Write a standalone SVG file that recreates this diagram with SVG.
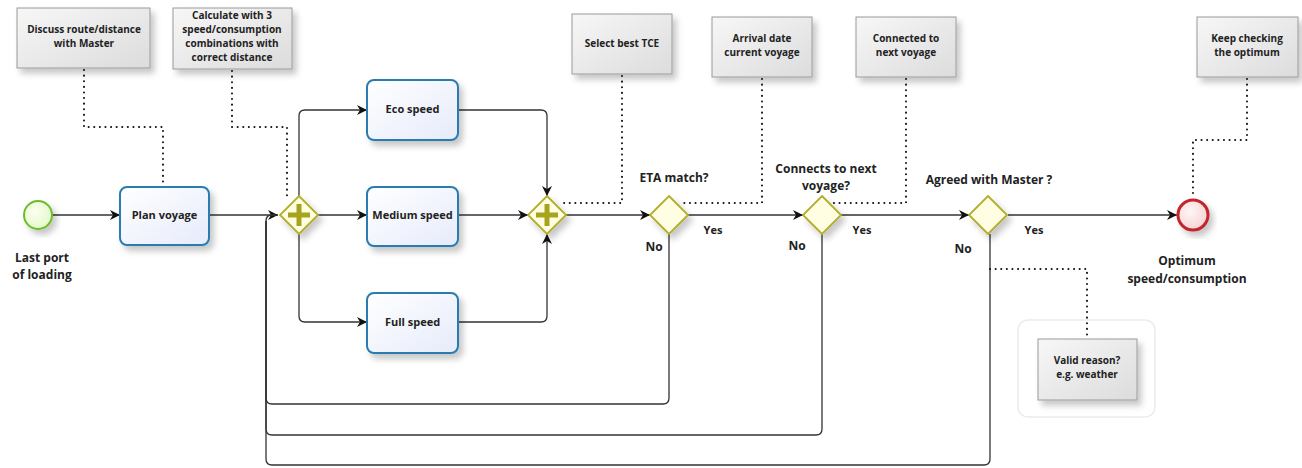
<svg xmlns="http://www.w3.org/2000/svg" width="1302" height="468" viewBox="0 0 1302 468">
<defs>
<linearGradient id="taskG" x1="0" y1="0" x2="1" y2="1"><stop offset="0" stop-color="#ffffff"/><stop offset="1" stop-color="#e6ebfb"/></linearGradient>
<linearGradient id="annG" x1="0" y1="0" x2="1" y2="1"><stop offset="0" stop-color="#f7f7f7"/><stop offset="1" stop-color="#dcdcdc"/></linearGradient>
<radialGradient id="startG" cx="0.4" cy="0.4" r="0.7"><stop offset="0" stop-color="#fbfff0"/><stop offset="1" stop-color="#e3f7c4"/></radialGradient>
<radialGradient id="endG" cx="0.4" cy="0.4" r="0.7"><stop offset="0" stop-color="#fff6f6"/><stop offset="1" stop-color="#f3cfd0"/></radialGradient>
<filter id="sh" x="-20%" y="-20%" width="150%" height="150%"><feDropShadow dx="4" dy="5" stdDeviation="3" flood-color="#000" flood-opacity="0.22"/></filter>
<marker id="arr" viewBox="0 0 10 10" refX="10" refY="5" markerWidth="10" markerHeight="10" markerUnits="userSpaceOnUse" orient="auto"><path d="M0,0 L10,5 L0,10 L3,5 Z" fill="#111"/></marker>
</defs>
<style>
.t{font-family:"Open Sans","Liberation Sans",sans-serif;font-weight:bold;fill:#222;text-anchor:middle}
.task{fill:url(#taskG);stroke:#2b7bb0;stroke-width:2;filter:url(#sh)}
.ann{fill:url(#annG);stroke:#9a9a9a;stroke-width:1;filter:url(#sh)}
.gw{fill:#fffde2;stroke:#b2ad2c;stroke-width:1.8;filter:url(#sh)}
.plus{fill:#a8a31c}
.flow{fill:none;stroke:#333;stroke-width:1.3}
.assoc{fill:none;stroke:#111;stroke-width:2;stroke-dasharray:0.1 5.5;stroke-linecap:round}
.ta{font-size:11px}
.tn{font-size:10px}
.tl{font-size:12px}
</style>
<rect width="1302" height="468" fill="#fff"/>

<g id="connectors">
<path class="flow" d="M52,215 H120" marker-end="url(#arr)"/>
<path class="flow" d="M209,215 H278" marker-end="url(#arr)"/>
<path class="flow" d="M318,215 H367" marker-end="url(#arr)"/>
<path class="flow" d="M299,196 V116 Q299,110 305,110 H367" marker-end="url(#arr)"/>
<path class="flow" d="M299,234 V316 Q299,322 305,322 H367" marker-end="url(#arr)"/>
<path class="flow" d="M458,110 H541 Q547,110 547,116 V196" marker-end="url(#arr)"/>
<path class="flow" d="M458,215 H528" marker-end="url(#arr)"/>
<path class="flow" d="M458,322 H541 Q547,322 547,316 V234" marker-end="url(#arr)"/>
<path class="flow" d="M566,215 H650" marker-end="url(#arr)"/>
<path class="flow" d="M688,215 H803" marker-end="url(#arr)"/>
<path class="flow" d="M841,215 H969" marker-end="url(#arr)"/>
<path class="flow" d="M1008,215 H1177" marker-end="url(#arr)"/>
<path class="flow" d="M669,234 V398 Q669,404 663,404 H272 Q266,404 266,398 V221 Q266,215 272,215 H276"/>
<path class="flow" d="M822,234 V429 Q822,435 816,435 H272 Q266,435 266,429 V221"/>
<path class="flow" d="M990,234 V459 Q990,465 984,465 H272 Q266,465 266,459 V221"/>
<path class="assoc" d="M84,70 V127 H163 V186"/>
<path class="assoc" d="M232,71 V127 H287 V198"/>
<path class="assoc" d="M622,76 V203 H560"/>
<path class="assoc" d="M762,79 V203 H680"/>
<path class="assoc" d="M906,79 V203 H832"/>
<path class="assoc" d="M1247,79 V140 H1193 V198"/>
<path class="assoc" d="M990,269 H1087 V337"/>
</g>

<g id="start">
<circle cx="38" cy="215" r="14" fill="url(#startG)" stroke="#6bbd2c" stroke-width="2" filter="url(#sh)"/>
<text class="t tl" x="42" y="262">Last port</text>
<text class="t tl" x="42" y="279">of loading</text>
</g>

<g id="plan"><rect class="task" x="120" y="187" width="89" height="58" rx="7"/><text class="t ta" x="164.5" y="219">Plan voyage</text></g>

<g id="split"><path class="gw" d="M299,196 L318,215 L299,234 L280,215 Z"/><path class="plus" d="M296.5,204 h5 v8.5 h8.5 v5 h-8.5 v8.5 h-5 v-8.5 h-8.5 v-5 h8.5 Z"/></g>

<g id="eco"><rect class="task" x="367" y="80" width="91" height="60" rx="7"/><text class="t ta" x="412.5" y="113">Eco speed</text></g>
<g id="medium"><rect class="task" x="367" y="187" width="91" height="59" rx="7"/><text class="t ta" x="412.5" y="219">Medium speed</text></g>
<g id="full"><rect class="task" x="367" y="293" width="91" height="60" rx="7"/><text class="t ta" x="412.5" y="326">Full speed</text></g>

<g id="join"><path class="gw" d="M547,196 L566,215 L547,234 L528,215 Z"/><path class="plus" d="M544.5,204 h5 v8.5 h8.5 v5 h-8.5 v8.5 h-5 v-8.5 h-8.5 v-5 h8.5 Z"/></g>

<g id="eta"><path class="gw" d="M669,196 L688,215 L669,234 L650,215 Z"/>
<text class="t tl" x="674" y="182">ETA match?</text>
<text class="t ta" x="713" y="234">Yes</text>
<text class="t tl" x="654" y="251">No</text></g>

<g id="connects"><path class="gw" d="M822,196 L841,215 L822,234 L803,215 Z"/>
<text class="t tl" x="826" y="173">Connects to next</text>
<text class="t tl" x="826" y="190">voyage?</text>
<text class="t ta" x="862" y="234">Yes</text>
<text class="t tl" x="797" y="250">No</text></g>

<g id="agreed"><path class="gw" d="M988,196 L1007,215 L988,234 L969,215 Z"/>
<text class="t tl" x="989" y="184">Agreed with Master ?</text>
<text class="t ta" x="1034" y="234">Yes</text>
<text class="t tl" x="963" y="253">No</text></g>

<g id="end">
<circle cx="1193" cy="215" r="15" fill="url(#endG)" stroke="#c1272d" stroke-width="3" filter="url(#sh)"/>
<text class="t tl" x="1187" y="265">Optimum</text>
<text class="t tl" x="1187" y="283">speed/consumption</text>
</g>

<g id="ann1"><rect class="ann" x="17" y="8" width="133" height="60"/><text class="t tn" x="84" y="33">Discuss route/distance</text><text class="t tn" x="84" y="47">with Master</text></g>
<g id="ann2"><rect class="ann" x="173" y="8" width="119" height="61"/><text class="t tn" x="232" y="19">Calculate with 3</text><text class="t tn" x="232" y="33">speed/consumption</text><text class="t tn" x="232" y="47">combinations with</text><text class="t tn" x="232" y="61">correct distance</text></g>
<g id="ann3"><rect class="ann" x="572" y="14" width="100" height="60"/><text class="t tn" x="622" y="47">Select best TCE</text></g>
<g id="ann4"><rect class="ann" x="712" y="17" width="100" height="60"/><text class="t tn" x="762" y="42">Arrival date</text><text class="t tn" x="762" y="56">current voyage</text></g>
<g id="ann5"><rect class="ann" x="856" y="17" width="100" height="60"/><text class="t tn" x="906" y="42">Connected to</text><text class="t tn" x="906" y="56">next voyage</text></g>
<g id="ann6"><rect class="ann" x="1197" y="17" width="101" height="60"/><text class="t tn" x="1247" y="42">Keep checking</text><text class="t tn" x="1247" y="56">the optimum</text></g>
<g id="ann7"><rect x="1018" y="320" width="137" height="97" rx="10" fill="none" stroke="#ececec" stroke-width="1.5"/><rect class="ann" x="1038" y="339" width="99" height="61"/><text class="t tn" x="1087" y="364">Valid reason?</text><text class="t tn" x="1087" y="378">e.g. weather</text></g>
</svg>
